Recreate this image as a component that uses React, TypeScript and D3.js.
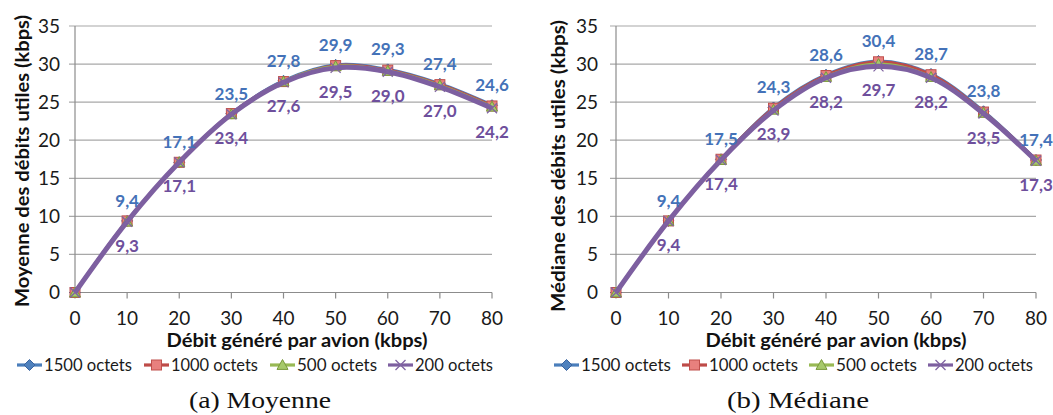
import React from "react";
import * as d3 from "d3";

const xValues = [0, 10, 20, 30, 40, 50, 60, 70, 80];
const seriesNames = ["1500 octets", "1000 octets", "500 octets", "200 octets"];

const moy1500 = [0, 9.4, 17.1, 23.5, 27.8, 29.9, 29.3, 27.4, 24.6];
const moy1000 = [0, 9.4, 17.1, 23.5, 27.7, 29.8, 29.2, 27.3, 24.5];
const moy500 = [0, 9.3, 17.1, 23.4, 27.7, 29.7, 29.1, 27.2, 24.4];
const moy200 = [0, 9.3, 17.1, 23.4, 27.6, 29.5, 29.0, 27.0, 24.2];

const med1500 = [0, 9.4, 17.5, 24.3, 28.6, 30.4, 28.7, 23.8, 17.4];
const med1000 = [0, 9.4, 17.5, 24.2, 28.5, 30.3, 28.6, 23.7, 17.4];
const med500 = [0, 9.4, 17.4, 24.0, 28.3, 30.0, 28.3, 23.6, 17.3];
const med200 = [0, 9.4, 17.4, 23.9, 28.2, 29.7, 28.2, 23.5, 17.3];

const yTicks = [0, 5, 10, 15, 20, 25, 30, 35];
const xTicks = [0, 10, 20, 30, 40, 50, 60, 70, 80];

const lineColors = ["#4A7EBB", "#BE4B48", "#98B954", "#7D5FA0"];
const lineWidths = [3.2, 3.2, 3.2, 5];
const FONT = "Lato, 'Open Sans', sans-serif";

const fmt = (v: number) => v.toFixed(1).replace(".", ",");

function Marker({ kind, x, y }: { kind: number; x: number; y: number }) {
  if (kind === 0) {
    const s = 5.5;
    return (
      <path
        d={`M${x},${y - s}L${x + s},${y}L${x},${y + s}L${x - s},${y}Z`}
        fill="#4F81BD"
        stroke="#3A64A0"
        strokeWidth={1}
      />
    );
  }
  if (kind === 1) {
    const s = 5;
    return (
      <rect x={x - s} y={y - s} width={2 * s} height={2 * s} fill="#E8807E" stroke="#C0504D" strokeWidth={1} />
    );
  }
  if (kind === 2) {
    const s = 5.5;
    return (
      <path
        d={`M${x},${y - s}L${x + s},${y + s * 0.8}L${x - s},${y + s * 0.8}Z`}
        fill="#A6C96A"
        stroke="#7A9A3C"
        strokeWidth={1}
      />
    );
  }
  const s = 5;
  return (
    <path
      d={`M${x - s},${y - s}L${x + s},${y + s}M${x - s},${y + s}L${x + s},${y - s}`}
      stroke="#8064A2"
      strokeWidth={1.3}
      fill="none"
    />
  );
}

type PanelProps = {
  series: number[][];
  x0: number;
  x1: number;
  yLabelRight: number;
  yTitleX: number;
  yTitleY: number;
  yTitle: string;
  xTitleX: number;
  legendX: number[];
  legendW: number[];
  caption: string;
  captionX: number;
};

function Panel(p: PanelProps) {
  const x = d3.scaleLinear().domain([0, 80]).range([p.x0, p.x1]);
  const y = d3.scaleLinear().domain([0, 35]).range([292.5, 26]);
  const line = d3
    .line<number>()
    .x((_, i) => x(xValues[i]))
    .y((d) => y(d))
    .curve(d3.curveCatmullRom.alpha(0.5));

  return (
    <g>
      {yTicks.map((t) => (
        <g key={"y" + t}>
          <line
            x1={p.x0 - 6}
            x2={p.x1}
            y1={y(t)}
            y2={y(t)}
            stroke={t === 0 ? "#8C8C8C" : "#A8A8A8"}
            strokeWidth={1.2}
          />
          <text
            x={p.yLabelRight}
            y={y(t)}
            dy="0.35em"
            textAnchor="end"
            fontFamily={FONT}
            fontSize={19}
            fill="#1a1a1a"
          >
            {t}
          </text>
        </g>
      ))}
      <line x1={p.x0} x2={p.x0} y1={y(35)} y2={y(0)} stroke="#8C8C8C" strokeWidth={1.2} />
      {xTicks.map((t) => (
        <g key={"x" + t}>
          <line x1={x(t)} x2={x(t)} y1={y(0)} y2={y(0) + 6} stroke="#8C8C8C" strokeWidth={1.2} />
          <text
            x={x(t)}
            y={318}
            dy="0.35em"
            textAnchor="middle"
            fontFamily={FONT}
            fontSize={19}
            fill="#1a1a1a"
          >
            {t}
          </text>
        </g>
      ))}
      <text
        transform={`translate(${p.yTitleX},${p.yTitleY}) rotate(-90)`}
        textAnchor="middle"
        dy="0.35em"
        fontFamily={FONT}
        fontWeight="bold"
        fontSize={19}
        fill="#111"
        textLength={292}
        lengthAdjust="spacingAndGlyphs"
      >
        {p.yTitle}
      </text>
      <text
        x={p.xTitleX}
        y={340}
        dy="0.35em"
        textAnchor="middle"
        fontFamily={FONT}
        fontWeight="bold"
        fontSize={19}
        fill="#111"
        textLength={261}
        lengthAdjust="spacingAndGlyphs"
      >
        Débit généré par avion (kbps)
      </text>

      {p.series.map((s, si) => (
        <g key={"s" + si}>
          <path d={line(s) || ""} fill="none" stroke={lineColors[si]} strokeWidth={lineWidths[si]} />
          {s.map((v, i) => (
            <Marker key={i} kind={si} x={x(xValues[i])} y={y(v)} />
          ))}
        </g>
      ))}

      {p.series[0].map((v, i) =>
        i === 0 ? null : (
          <text
            key={"lb" + i}
            x={x(xValues[i])}
            y={y(v) - 20}
            dy="0.35em"
            textAnchor="middle"
            fontFamily={FONT}
            fontWeight="bold"
            fontSize={17}
            fill="#4472B8"
          >
            {fmt(v)}
          </text>
        )
      )}
      {p.series[3].map((v, i) =>
        i === 0 ? null : (
          <text
            key={"lp" + i}
            x={x(xValues[i])}
            y={y(v) + 24}
            dy="0.35em"
            textAnchor="middle"
            fontFamily={FONT}
            fontWeight="bold"
            fontSize={17}
            fill="#6E4F9C"
          >
            {fmt(v)}
          </text>
        )
      )}

      {seriesNames.map((name, si) => {
        const lx = p.legendX[si];
        return (
          <g key={"lg" + si}>
            <line x1={lx} x2={lx + 25} y1={365} y2={365} stroke={lineColors[si]} strokeWidth={3.2} />
            <Marker kind={si} x={lx + 12.5} y={365} />
            <text
              x={lx + 27}
              y={365}
              dy="0.35em"
              fontFamily={FONT}
              fontSize={18}
              fill="#1a1a1a"
              textLength={p.legendW[si]}
              lengthAdjust="spacingAndGlyphs"
            >
              {name}
            </text>
          </g>
        );
      })}

      <text
        x={p.captionX}
        y={400}
        dy="0.35em"
        textAnchor="middle"
        fontFamily="'Liberation Serif', serif"
        fontSize={23}
        fill="#111"
        textLength={142}
        lengthAdjust="spacingAndGlyphs"
      >
        {p.caption}
      </text>
    </g>
  );
}

export default function App() {
  return (
    <svg
      width={1053}
      height={415}
      viewBox="0 0 1053 415"
      style={{ position: "absolute", left: 0, top: 0, background: "#fff" }}
    >
      <rect width={1053} height={415} fill="#fff" />
      <Panel
        series={[moy1500, moy1000, moy500, moy200]}
        x0={75}
        x1={492}
        yLabelRight={60}
        yTitleX={22}
        yTitleY={161}
        yTitle="Moyenne des débits utiles (kbps)"
        xTitleX={297}
        legendX={[17, 144, 270, 388]}
        legendW={[88, 87, 80, 78]}
        caption="(a) Moyenne"
        captionX={260}
      />
      <Panel
        series={[med1500, med1000, med500, med200]}
        x0={616}
        x1={1036}
        yLabelRight={598}
        yTitleX={558}
        yTitleY={166}
        yTitle="Médiane des débits utiles (kbps)"
        xTitleX={836}
        legendX={[554, 682, 809, 928]}
        legendW={[90, 89, 81, 78]}
        caption="(b) Médiane"
        captionX={798}
      />
    </svg>
  );
}
